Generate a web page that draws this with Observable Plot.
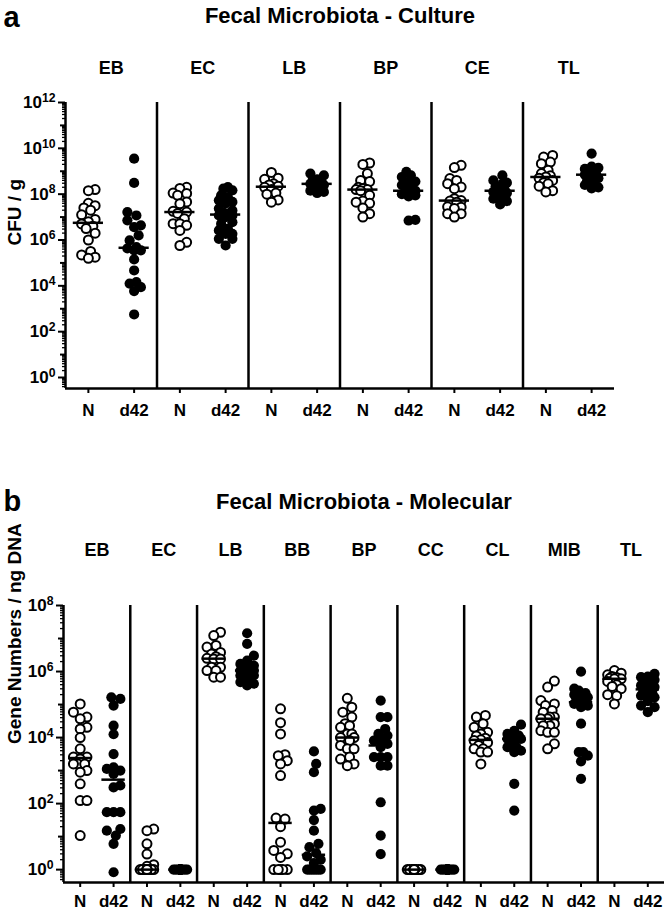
<!DOCTYPE html>
<html>
<head>
<meta charset="utf-8">
<script src="https://cdn.jsdelivr.net/npm/d3@7"></script>
<script src="https://cdn.jsdelivr.net/npm/@observablehq/plot@0.6"></script>
<style>
  body { margin: 0; background: #fff; }
  #fig { position: relative; width: 666px; height: 912px; overflow: hidden; background: #fff; }
  .panel { position: absolute; left: 0; }
</style>
</head>
<body>
<div id="fig"></div>
<script>
// ---------------- DATA ----------------
const conditions = ["N", "d42"];

// Panel a: Fecal Microbiota - Culture (log10 CFU / g)
const groupsA = ["EB", "EC", "LB", "BP", "CE", "TL"];
const a_EB_N   = [8.2, 8.15, 7.6, 7.5, 7.4, 7.3, 7.1, 6.9, 6.8, 6.7, 6.6, 6.5, 6.3, 6.0, 5.5, 5.35, 5.25, 5.2];
const a_EB_d42 = [9.55, 8.49, 7.22, 7.07, 6.86, 6.64, 6.56, 6.2, 5.98, 5.69, 5.63, 5.55, 5.55, 5.15, 4.67, 4.16, 4.1, 3.94, 3.77, 2.75];
const a_EC_N   = [8.3, 8.25, 8.05, 8.03, 7.95, 7.66, 7.58, 7.25, 7.22, 7.16, 6.93, 6.71, 6.71, 6.64, 6.42, 5.9, 5.76];
const a_EC_d42 = [8.31, 8.24, 8.17, 7.95, 7.87, 7.73, 7.66, 7.6, 7.37, 7.29, 7.2, 7.15, 7.07, 7.07, 7.0, 6.78, 6.71, 6.49, 6.42, 6.27, 6.27, 6.05, 6.05, 5.76];
const a_LB_N   = [8.95, 8.7, 8.65, 8.45, 8.4, 8.35, 8.3, 8.2, 8.05, 8.0, 7.75, 7.65];
const a_LB_d42 = [8.9, 8.82, 8.65, 8.6, 8.55, 8.5, 8.45, 8.4, 8.3, 8.25, 8.15, 8.1, 8.05];
const a_BP_N   = [9.36, 9.3, 8.9, 8.6, 8.55, 8.3, 8.25, 8.2, 8.2, 8.15, 7.95, 7.7, 7.65, 7.6, 7.4, 7.15, 7.0];
const a_BP_d42 = [8.97, 8.82, 8.75, 8.55, 8.5, 8.45, 8.4, 8.15, 8.15, 8.1, 8.0, 7.95, 7.9, 6.88, 6.85];
const a_CE_N   = [9.26, 9.16, 8.68, 8.6, 8.46, 8.31, 8.24, 7.8, 7.72, 7.7, 7.65, 7.45, 7.43, 7.37, 7.15, 7.15, 7.0];
const a_CE_d42 = [8.82, 8.6, 8.5, 8.45, 8.35, 8.2, 8.15, 8.1, 8.05, 7.9, 7.8, 7.7, 7.55];
const a_TL_N   = [9.69, 9.62, 9.4, 9.33, 9.04, 8.9, 8.8, 8.75, 8.7, 8.6, 8.5, 8.45, 8.35, 8.15, 8.1];
const a_TL_d42 = [9.77, 9.2, 9.15, 9.1, 9.0, 8.9, 8.88, 8.85, 8.75, 8.7, 8.6, 8.55, 8.4, 8.3, 8.25];
const tickExpA = [0, 2, 4, 6, 8, 10, 12];

// Panel b: Fecal Microbiota - Molecular (log10 gene numbers / ng DNA)
const groupsB = ["EB", "EC", "LB", "BB", "BP", "CC", "CL", "MIB", "TL"];
const b_EB_N   = [5.02, 4.77, 4.62, 4.57, 4.31, 4.26, 4.0, 3.66, 3.41, 3.41, 3.35, 3.2, 3.2, 3.2, 3.0, 2.95, 2.6, 2.09, 2.09, 1.03];
const b_EB_d42 = [5.22, 5.17, 4.97, 4.36, 4.1, 3.5, 3.1, 3.05, 3.0, 2.9, 2.55, 2.49, 1.74, 1.74, 1.74, 1.23, 1.18, 1.03, 0.78, -0.08];
const b_EC_N   = [1.23, 1.18, 0.78, 0.47, 0.15, 0.1, 0, 0, 0, 0, 0, 0, 0, 0, 0, 0, 0, 0];
const b_EC_d42 = [0, 0, 0, 0, 0, 0, 0, 0, 0, 0, 0, 0, 0, 0, 0, 0, 0, 0];
const b_LB_N   = [7.19, 7.09, 6.79, 6.74, 6.58, 6.53, 6.45, 6.4, 6.38, 6.38, 6.13, 6.13, 6.03, 6.03, 5.83, 5.83];
const b_LB_d42 = [7.16, 6.84, 6.48, 6.33, 6.23, 6.18, 6.1, 6.05, 6.03, 6.03, 6.0, 5.88, 5.88, 5.78, 5.73, 5.68, 5.63, 5.58];
const b_BB_N   = [4.87, 4.45, 4.11, 3.48, 3.45, 3.3, 3.2, 2.85, 1.56, 1.53, 1.3, 0.83, 0.58, 0.48, 0.37, 0, 0, 0, 0, 0];
const b_BB_d42 = [3.58, 3.2, 2.95, 1.84, 1.79, 1.5, 1.18, 0.78, 0.68, 0.5, 0.4, 0.3, 0.2, 0, 0, 0, 0, 0, 0, 0];
const b_BP_N   = [5.19, 4.92, 4.77, 4.62, 4.42, 4.36, 4.31, 4.11, 4.11, 4.0, 4.0, 3.91, 3.76, 3.66, 3.66, 3.41, 3.35, 3.2, 3.15];
const b_BP_d42 = [5.12, 4.62, 4.62, 4.26, 4.11, 4.06, 3.91, 3.91, 3.81, 3.71, 3.41, 3.41, 3.41, 3.15, 3.15, 2.04, 1.03, 0.47];
const b_CC_N   = [0, 0, 0, 0, 0, 0, 0, 0, 0, 0, 0, 0, 0, 0, 0, 0, 0, 0];
const b_CC_d42 = [0, 0, 0, 0, 0, 0, 0, 0, 0, 0, 0, 0, 0, 0, 0, 0, 0, 0];
const b_CL_N   = [4.67, 4.62, 4.42, 4.31, 4.16, 4.11, 4.05, 3.98, 3.93, 3.91, 3.85, 3.76, 3.66, 3.66, 3.56, 3.56, 3.2];
const b_CL_d42 = [4.39, 4.2, 4.11, 4.06, 4.0, 3.96, 3.96, 3.96, 3.85, 3.71, 3.71, 3.6, 3.56, 2.6, 1.79];
const b_MIB_N  = [5.71, 5.53, 5.12, 5.02, 4.97, 4.82, 4.77, 4.62, 4.62, 4.57, 4.57, 4.42, 4.36, 4.36, 4.21, 4.16, 4.16, 3.81, 3.66];
const b_MIB_d42= [6.0, 5.48, 5.42, 5.35, 5.3, 5.27, 5.22, 5.15, 5.12, 5.02, 4.97, 4.92, 4.42, 3.56, 3.56, 3.45, 3.28, 2.75];
const b_TL_N   = [6.03, 5.95, 5.9, 5.85, 5.82, 5.8, 5.78, 5.78, 5.7, 5.6, 5.55, 5.48, 5.3, 5.27, 5.02];
const b_TL_d42 = [5.93, 5.85, 5.83, 5.75, 5.63, 5.6, 5.58, 5.53, 5.5, 5.42, 5.35, 5.32, 5.27, 5.22, 5.1, 4.97, 4.92, 4.77];
const tickExpB = [0, 2, 4, 6, 8];

const seriesA = {
  EB: [a_EB_N, a_EB_d42], EC: [a_EC_N, a_EC_d42], LB: [a_LB_N, a_LB_d42],
  BP: [a_BP_N, a_BP_d42], CE: [a_CE_N, a_CE_d42], TL: [a_TL_N, a_TL_d42]
};
const seriesB = {
  EB: [b_EB_N, b_EB_d42], EC: [b_EC_N, b_EC_d42], LB: [b_LB_N, b_LB_d42],
  BB: [b_BB_N, b_BB_d42], BP: [b_BP_N, b_BP_d42], CC: [b_CC_N, b_CC_d42],
  CL: [b_CL_N, b_CL_d42], MIB: [b_MIB_N, b_MIB_d42], TL: [b_TL_N, b_TL_d42]
};

// ---------------- HELPERS ----------------
const FONT = "'Liberation Sans', Arial, Helvetica, sans-serif";

function buildRows(groups, series) {
  const rows = [];
  groups.forEach((g, gi) => conditions.forEach((c, ci) => {
    series[g][ci].forEach(e => rows.push({ g, c, idx: gi * 2 + ci, e, v: Math.pow(10, e) }));
  }));
  return rows;
}

// Simple beeswarm layout (pixel-based) returning x in category units
function swarm(rows, pxPerDecade, pxPerUnit, r, maxHalf) {
  const byIdx = d3.group(rows, d => d.idx);
  const step = r * 0.5;
  const cands = [0];
  for (let k = 1; k * step <= maxHalf + 1e-6; k++) cands.push(k * step, -k * step);
  for (const [idx, pts] of byIdx) {
    const sorted = pts.slice().sort((a, b) => a.e - b.e);
    const placed = [];
    for (const p of sorted) {
      const py = p.e * pxPerDecade;
      let chosen = null, bestD = -1, bestX = 0;
      for (const cx of cands) {
        let minD = Infinity;
        for (const q of placed) {
          const d = Math.hypot(cx - q.x, py - q.y);
          if (d < minD) minD = d;
        }
        if (minD >= 2 * r * 0.95) { chosen = cx; break; }
        if (minD > bestD + 1e-9) { bestD = minD; bestX = cx; }
      }
      if (chosen === null) chosen = bestX;
      placed.push({ x: chosen, y: py });
      p.xp = idx + chosen / pxPerUnit;
    }
  }
  return rows;
}

function medians(rows) {
  return d3.rollups(rows, v => Math.pow(10, d3.median(v, d => d.e)), d => d.idx)
    .map(([idx, med]) => ({ idx, med }));
}

function minorTicks(eMin, eMax, lo, hi) {
  const t = [];
  for (let e = eMin; e <= eMax; e++) for (let m = 2; m <= 9; m++) {
    const v = m * Math.pow(10, e);
    if (v > lo && v < hi) t.push(v);
  }
  return t;
}

function superscripts(svg) {
  const ns = "http://www.w3.org/2000/svg";
  svg.querySelectorAll("text").forEach(t => {
    if (t.childElementCount) return;
    const s = t.textContent;
    if (!s.includes("|")) return;
    const [base, exp] = s.split("|");
    t.textContent = "";
    const s1 = document.createElementNS(ns, "tspan"); s1.textContent = base;
    const s2 = document.createElementNS(ns, "tspan"); s2.textContent = exp;
    s2.setAttribute("dy", "-0.5em"); s2.setAttribute("font-size", "0.72em");
    t.append(s1, s2);
  });
}

function makePanel(cfg) {
  const { groups, series, height, mTop, mBottom, mLeft, mRight, eLow, eHigh, tickExp,
          letter, title, yLabel, rDot, maxHalf, medHalf, titleDy, groupDy, letterDy, xPad, letterSize } = cfg;
  const rows = buildRows(groups, series);
  const n = groups.length * 2;
  const yLo = Math.pow(10, eLow), yHi = Math.pow(10, eHigh);
  const plotW = 666 - mLeft - mRight, plotH = height - mTop - mBottom;
  swarm(rows, plotH / (eHigh - eLow), plotW / n, rDot, maxHalf);
  const meds = medians(rows);
  const dividers = d3.range(1, groups.length).map(i => 2 * i - 0.5);
  const majors = d3.range(0, Math.floor(eHigh) + 1).map(e => Math.pow(10, e));
  const labelTicks = tickExp.map(e => Math.pow(10, e));
  const oddMajors = majors.filter(v => !labelTicks.includes(v));
  const minors = minorTicks(-1, Math.floor(eHigh), yLo, yHi);
  const textStyle = { fontSize: 17, fontWeight: "bold", fill: "#000" };

  return Plot.plot({
    width: 666, height,
    marginTop: mTop, marginBottom: mBottom, marginLeft: mLeft, marginRight: mRight,
    style: { fontFamily: FONT, color: "#000", background: "transparent", overflow: "visible" },
    x: { type: "linear", domain: [-0.5, n - 0.5], label: null },
    y: { type: "log", domain: [yLo, yHi], label: null },
    marks: [
      Plot.ruleX(dividers, { stroke: "#000", strokeWidth: 2.5 }),
      Plot.axisY(minors, { tickSize: 3, strokeWidth: 1.3, stroke: "#000", label: null, tickFormat: () => "" }),
      Plot.axisY(oddMajors, { tickSize: 5, strokeWidth: 2, stroke: "#000", label: null, tickFormat: () => "" }),
      Plot.axisY(labelTicks, { tickSize: 7, tickPadding: 3, strokeWidth: 2, stroke: "#000", label: null,
        tickFormat: v => "10|" + Math.round(Math.log10(v)), ...textStyle }),
      Plot.axisX(d3.range(n), { tickSize: 5, tickPadding: xPad, strokeWidth: 2, stroke: "#000", label: null,
        tickFormat: i => conditions[i % 2], ...textStyle }),
      Plot.ruleX([-0.5], { stroke: "#000", strokeWidth: 2.5 }),
      Plot.ruleY([yLo], { stroke: "#000", strokeWidth: 2.5 }),
      Plot.dot(rows.filter(d => d.c === "N"), { x: "xp", y: "v", r: rDot, fill: "white", stroke: "#000", strokeWidth: 2 }),
      Plot.dot(rows.filter(d => d.c === "d42"), { x: "xp", y: "v", r: rDot + 0.6, fill: "#000", stroke: "none" }),
      Plot.ruleY(meds, { x1: d => d.idx - medHalf, x2: d => d.idx + medHalf, y: "med", stroke: "#000", strokeWidth: 2.5 }),
      Plot.text(groups, { x: (d, i) => 2 * i + 0.5, frameAnchor: "top", text: d => d, dy: groupDy,
        lineAnchor: "bottom", fontSize: 18, fontWeight: "bold", fill: "#000" }),
      Plot.text([title], { frameAnchor: "top", text: d => d, dy: titleDy, lineAnchor: "bottom",
        fontSize: 22, fontWeight: "bold", fill: "#000" }),
      Plot.text([letter], { frameAnchor: "top-left", text: d => d, dx: 3 - mLeft, dy: letterDy, textAnchor: "start",
        lineAnchor: "bottom", fontSize: letterSize, fontWeight: "bold", fill: "#000" }),
      Plot.text([yLabel], { frameAnchor: "left", text: d => d, rotate: -90, dx: 14 - mLeft,
        fontSize: 19, fontWeight: "bold", fill: "#000" })
    ]
  });
}

// ---------------- RENDER ----------------
const fig = document.getElementById("fig");

const plotA = makePanel({
  groups: groupsA, series: seriesA, height: 440,
  mTop: 102, mBottom: 52, mLeft: 65, mRight: 52,
  eLow: -0.48, eHigh: 12, tickExp: tickExpA,
  letter: "a", title: "Fecal Microbiota - Culture", yLabel: "CFU / g",
  rDot: 4.5, maxHalf: 7.5, medHalf: 0.33, titleDy: -80, groupDy: -29, letterDy: -76, xPad: 10, letterSize: 29
});
superscripts(plotA);
const wrapA = document.createElement("div");
wrapA.className = "panel"; wrapA.style.top = "0px";
wrapA.appendChild(plotA);
fig.appendChild(wrapA);

const topB = 440;
const plotB = makePanel({
  groups: groupsB, series: seriesB, height: 472,
  mTop: 605 - topB, mBottom: 912 - 882, mLeft: 63, mRight: 2,
  eLow: -0.39, eHigh: 8, tickExp: tickExpB,
  letter: "b", title: "Fecal Microbiota - Molecular", yLabel: "Gene Numbers / ng DNA",
  rDot: 4.5, maxHalf: 7, medHalf: 0.35, titleDy: -97, groupDy: -50, letterDy: -95, xPad: 7, letterSize: 29
});
superscripts(plotB);
const wrapB = document.createElement("div");
wrapB.className = "panel"; wrapB.style.top = topB + "px";
wrapB.appendChild(plotB);
fig.appendChild(wrapB);
</script>
</body>
</html>
